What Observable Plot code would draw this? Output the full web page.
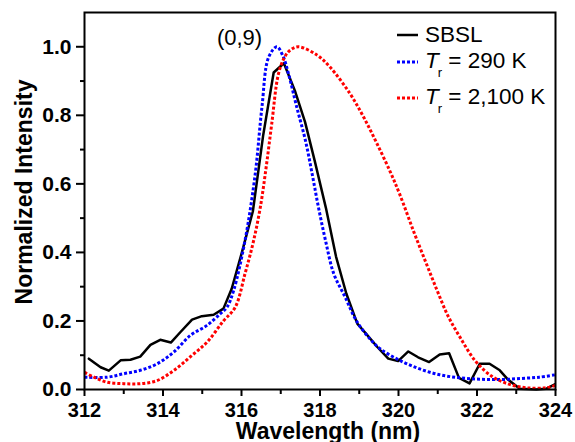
<!DOCTYPE html>
<html>
<head>
<meta charset="utf-8">
<script src="https://cdn.jsdelivr.net/npm/d3@7"></script>
<script src="https://cdn.jsdelivr.net/npm/@observablehq/plot@0.6"></script>
<style>
  body { margin: 0; background: #fff; }
  #wrap { position: relative; width: 575px; height: 442px; overflow: hidden;
          font-family: "Liberation Sans", Arial, Helvetica, sans-serif; }
  .leg { position: absolute; left: 397px; height: 22px; display: flex; align-items: center;
         font-size: 22.5px; line-height: 22px; white-space: nowrap; color: #000; }
  .leg svg { margin-right: 7px; }
  .leg i { font-style: italic; }
  .leg .sub { font-size: 13px; position: relative; top: 9px; margin-left: -1px; margin-right: 0px; }
</style>
</head>
<body>
<div id="wrap"></div>
<script>
// ---- data ----
const sbslX = [312.11, 312.41, 312.62, 312.92, 313.17, 313.42, 313.68, 313.93, 314.2, 314.44, 314.74, 314.99, 315.29, 315.54, 315.75, 316.01, 316.29, 316.55, 316.82, 317.08, 317.36, 317.62, 317.87, 318.15, 318.41, 318.67, 318.95, 319.21, 319.46, 319.74, 319.99, 320.25, 320.5, 320.78, 321.05, 321.29, 321.54, 321.81, 322.07, 322.32, 322.58, 322.79, 323.09, 323.51, 323.76, 323.98];
const sbslY = [0.090, 0.065, 0.055, 0.085, 0.087, 0.096, 0.130, 0.145, 0.137, 0.167, 0.204, 0.214, 0.218, 0.236, 0.294, 0.40, 0.52, 0.74, 0.925, 0.952, 0.872, 0.78, 0.665, 0.53, 0.387, 0.28, 0.192, 0.158, 0.124, 0.09, 0.083, 0.111, 0.094, 0.080, 0.102, 0.106, 0.034, 0.018, 0.075, 0.075, 0.056, 0.029, 0.002, 0.0, 0.002, 0.015];

const t290X = [312.0, 312.58, 313.0, 313.42, 313.85, 314.27, 314.7, 315.12, 315.46, 315.63, 315.80, 316.09, 316.35, 316.52, 316.69, 316.9, 317.05, 317.20, 317.41, 317.63, 317.80, 317.96, 318.14, 318.35, 318.64, 318.93, 319.27, 319.53, 320.03, 320.54, 321.05, 321.56, 322.07, 322.58, 323.09, 323.59, 324.0];
const t290Y = [0.036, 0.036, 0.046, 0.056, 0.075, 0.109, 0.158, 0.187, 0.221, 0.240, 0.289, 0.435, 0.629, 0.823, 0.969, 1.0, 0.975, 0.92, 0.823, 0.726, 0.629, 0.532, 0.435, 0.338, 0.27, 0.20, 0.148, 0.119, 0.085, 0.06, 0.043, 0.034, 0.030, 0.029, 0.032, 0.036, 0.043];

const t2100X = [312.0, 312.24, 312.58, 313.0, 313.42, 313.85, 314.27, 314.7, 315.12, 315.54, 315.84, 316.09, 316.3, 316.48, 316.63, 316.77, 316.94, 317.1, 317.24, 317.45, 317.92, 318.26, 318.76, 319.11, 319.44, 319.79, 320.03, 320.39, 320.7, 320.98, 321.26, 321.58, 321.98, 322.41, 322.83, 323.26, 323.76, 324.0];
const t2100Y = [0.050, 0.036, 0.021, 0.017, 0.017, 0.026, 0.055, 0.096, 0.138, 0.2, 0.24, 0.338, 0.43, 0.532, 0.65, 0.775, 0.92, 0.97, 0.99, 1.0, 0.976, 0.94, 0.864, 0.795, 0.72, 0.635, 0.57, 0.46, 0.37, 0.29, 0.215, 0.15, 0.08, 0.036, 0.015, 0.005, 0.005, 0.012];

const xTicks = [312, 314, 316, 318, 320, 322, 324];
const xMinorTicks = [313, 315, 317, 319, 321, 323];
const yTicks = [0, 0.2, 0.4, 0.6, 0.8, 1.0];
const yMinorTicks = [0.1, 0.3, 0.5, 0.7, 0.9];

const annotX = [315.95];
const annotY = [1.025];
const annotText = ["(0,9)"];

const xLabel = "Wavelength (nm)";
const yLabel = "Normalized Intensity";
// ---------------------------------------

const font = '"Liberation Sans", Arial, Helvetica, sans-serif';

const chart = Plot.plot({
  width: 575,
  height: 442,
  marginLeft: 84,
  marginRight: 20,
  marginTop: 12,
  marginBottom: 53,
  style: { fontFamily: font, background: "#fff", color: "#000" },
  x: { domain: [312, 324] },
  y: { domain: [0, 1.1] },
  marks: [
    Plot.axisX({ ticks: xMinorTicks, tickSize: 5, tickFormat: () => "", strokeWidth: 2, label: null }),
    Plot.axisX({ ticks: xTicks, tickSize: 7, tickPadding: 6, tickFormat: d => String(d), strokeWidth: 2,
                 fontSize: 20, fontWeight: "bold", label: null }),
    Plot.axisY({ ticks: yMinorTicks, tickSize: 4, tickFormat: () => "", strokeWidth: 2, label: null }),
    Plot.axisY({ ticks: yTicks, tickSize: 8, tickPadding: 5, tickFormat: d3.format(".1f"), strokeWidth: 2,
                 fontSize: 21, fontWeight: "bold", label: null }),
    Plot.line(sbslX, { x: sbslX, y: sbslY, stroke: "#000", strokeWidth: 2.5 }),
    Plot.line(t290X, { x: t290X, y: t290Y, stroke: "#0000ff", strokeWidth: 3, strokeDasharray: "3,2",
                       strokeLinecap: "butt", curve: "catmull-rom" }),
    Plot.line(t2100X, { x: t2100X, y: t2100Y, stroke: "#ff0000", strokeWidth: 3, strokeDasharray: "3,2",
                        strokeLinecap: "butt", curve: "catmull-rom" }),
    Plot.text(annotText, { x: annotX, y: annotY, text: annotText, fontSize: 22, fill: "#000" }),
    Plot.text([xLabel], { frameAnchor: "bottom", textAnchor: "middle", lineAnchor: "middle", dx: 8, dy: 42,
                          text: d => d, fontSize: 23, fontWeight: "bold", fill: "#000" }),
    Plot.text([yLabel], { frameAnchor: "left", textAnchor: "middle", lineAnchor: "middle", rotate: -90, dx: -60, dy: -9,
                          text: d => d, fontSize: 23, fontWeight: "bold", fill: "#000" }),
    Plot.frame({ stroke: "#000", strokeWidth: 2 })
  ]
});

const wrap = document.getElementById("wrap");
wrap.appendChild(chart);

const legendItems = [
  { html: "SBSL", color: "#000", dash: null, top: 24 },
  { html: '<i>T</i><span class="sub">r</span> = 290 K', color: "#0000ff", dash: "3,2", top: 51 },
  { html: '<i>T</i><span class="sub">r</span> = 2,100 K', color: "#ff0000", dash: "3,2", top: 87 }
];
for (const it of legendItems) {
  const row = document.createElement("div");
  row.className = "leg";
  row.style.top = it.top + "px";
  row.innerHTML =
    `<svg width="21" height="6"><line x1="0" x2="21" y1="3" y2="3" stroke="${it.color}" stroke-width="${it.dash ? 3 : 2.5}" ${it.dash ? `stroke-dasharray="${it.dash}"` : ""}/></svg><span>${it.html}</span>`;
  wrap.appendChild(row);
}
</script>
</body>
</html>
